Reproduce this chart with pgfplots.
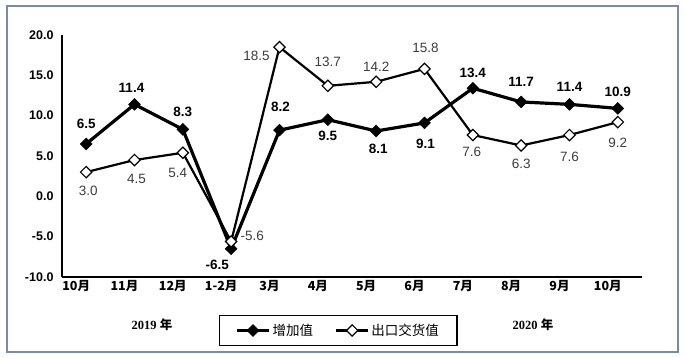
\documentclass[border=0pt]{standalone}
\usepackage{fontspec}
\setmainfont{Liberation Sans}
\newfontfamily\cjk{Noto Sans CJK SC}
\newfontfamily\tnr{Liberation Serif}
\usepackage{pgfplots}
\usepackage{pgfplotstable}
\pgfplotsset{compat=1.18}
\definecolor{framec}{RGB}{120,140,170}
\definecolor{lblgray}{RGB}{60,60,60}

\pgfplotstableread{
x y dx dy
0 6.5 0 20.5
1 11.4 -3 17
2 8.3 0 18
3 -6.5 -14 -16.5
4 8.2 1 23
5 9.5 0 -16
6 8.1 2 -18
7 9.1 1 -21
8 13.4 0 15
9 11.7 0 20
10 11.4 0 18
11 10.9 0 17
}\zjz

\pgfplotstableread{
x y dx dy
0 3.0 2 -19
1 4.5 2 -19
2 5.4 -5 -20
3 -5.6 21 6
4 18.5 -23 -9
5 13.7 0 24
6 14.2 0 15
7 15.8 1 21
8 7.6 -1 -17
9 6.3 0 -18
10 7.6 0 -22
11 9.2 0 -21
}\ckj

\begin{document}
\begin{tikzpicture}
\useasboundingbox (0pt,0pt) rectangle (685pt,358pt);
\draw[color=framec, line width=1.5pt] (7pt,6pt) rectangle (678pt,352pt);
\begin{axis}[
  at={(62pt,81pt)}, anchor=south west,
  scale only axis, width=580pt, height=242pt,
  xmin=-0.5, xmax=11.5, ymin=-10, ymax=20,
  axis x line*=bottom, axis y line*=left,
  axis line style={-, line width=1.5pt, black},
  xtick={0,...,11},
  xticklabels={10月,11月,12月,1-2月,3月,4月,5月,6月,7月,8月,9月,10月},
  ytick={-10,-5,...,20},
  major tick length=0pt,
  yticklabel style={font=\fontsize{12.5}{14}\selectfont\bfseries,
    /pgf/number format/fixed, /pgf/number format/fixed zerofill,
    /pgf/number format/precision=1, /pgf/number format/assume math mode=true,
    xshift=-5pt},
  xticklabel style={font=\cjk\bfseries\fontsize{12.5}{14}\selectfont, xshift=-10pt},
  clip=false,
  legend style={at={(0.476,-0.221)}, anchor=center, legend columns=2,
    draw=black, line width=1.6pt, font=\cjk\fontsize{13.5}{15}\selectfont,
    /tikz/every even column/.append style={column sep=20pt},
    inner xsep=16pt, inner ysep=6.5pt},
  legend image code/.code={\draw[mark repeat=2,mark phase=2,#1] plot coordinates {(0pt,0pt) (16pt,0pt) (32pt,0pt)};},
  nodes near coords={\pgfmathprintnumber[fixed,fixed zerofill,precision=1,assume math mode=true]{\pgfplotspointmeta}},
  point meta=explicit,
  visualization depends on={\thisrow{dx}\as\dx},
  visualization depends on={\thisrow{dy}\as\dy},
]
\addplot[black, line width=3.2pt, mark=square*, mark size=4.2pt,
  mark options={rotate=45, fill=black, line width=0.5pt},
  every node near coord/.style={anchor=center, xshift=\dx pt, yshift=\dy pt,
    font=\fontsize{13.5}{15}\selectfont\bfseries, text=black}]
  table[x=x, y=y, meta=y] {\zjz};
\addlegendentry{增加值}
\addplot[black, line width=2.2pt, mark=square*, mark size=4pt,
  mark options={rotate=45, fill=white, draw=black, line width=1.2pt},
  every node near coord/.style={anchor=center, xshift=\dx pt, yshift=\dy pt,
    font=\fontsize{13.5}{15}\selectfont, text=lblgray}]
  table[x=x, y=y, meta=y] {\ckj};
\addlegendentry{出口交货值}
\end{axis}
\node[font=\fontsize{12.5}{14}\selectfont] at (152pt,33pt) {{\tnr\bfseries 2019} {\cjk\bfseries 年}};
\node[font=\fontsize{12.5}{14}\selectfont] at (533pt,33pt) {{\tnr\bfseries 2020} {\cjk\bfseries 年}};
\end{tikzpicture}
\end{document}
